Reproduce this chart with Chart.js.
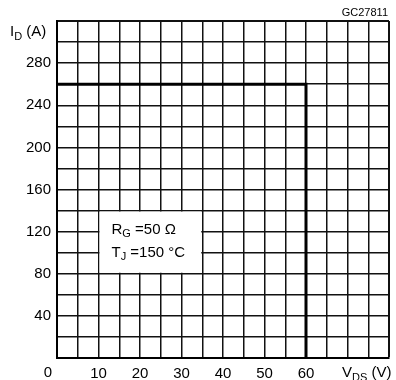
<!DOCTYPE html>
<html>
<head>
<meta charset="utf-8">
<script src="https://cdn.jsdelivr.net/npm/chart.js@4.4.0/dist/chart.umd.min.js"></script>
<style>
  html, body { margin: 0; padding: 0; background: #fff; }
</style>
</head>
<body>
<canvas id="soa" width="396" height="380"></canvas>
<script>
// safe operating area limit, I_D vs V_DS
var vdsLimit = [0, 60, 60];
var idLimit = [260, 260, 0];
var xTickLabels = [10, 20, 30, 40, 50, 60];
var yTickLabels = [40, 80, 120, 160, 200, 240, 280];

var FONT = '"Liberation Sans", Arial, sans-serif';
var X_MAX = 80, Y_MAX = 320;

// draws "main" + subscript + rest, left aligned, vertically centred on y
function subText(ctx, x, y, main, sub, rest, size) {
    ctx.font = size + 'px ' + FONT;
    ctx.fillText(main, x, y);
    x += ctx.measureText(main).width;
    ctx.font = Math.round(size * 0.72) + 'px ' + FONT;
    ctx.fillText(sub, x, y + size * 0.32);
    x += ctx.measureText(sub).width;
    ctx.font = size + 'px ' + FONT;
    ctx.fillText(rest, x, y);
}

var annotate = {
    id: 'annotate',
    beforeDatasetsDraw: function(chart) {
        var ctx = chart.ctx, xs = chart.scales.x, ys = chart.scales.y;
        var l = xs.getPixelForValue(10), r = xs.getPixelForValue(35);
        var t = ys.getPixelForValue(140), b = ys.getPixelForValue(80);
        ctx.save();
        ctx.fillStyle = '#fff';
        ctx.fillRect(l + 1, t + 1, r - l - 2, b - t - 2);
        ctx.fillStyle = '#000';
        ctx.textBaseline = 'middle';
        ctx.textAlign = 'left';
        subText(ctx, l + 13, t + 19, 'R', 'G', ' =50 \u03A9', 15);
        subText(ctx, l + 13, t + 42, 'T', 'J', ' =150 \u00B0C', 15);
        ctx.restore();
    },
    afterDraw: function(chart) {
        var ctx = chart.ctx, area = chart.chartArea;
        ctx.save();
        ctx.fillStyle = '#000';
        ctx.textBaseline = 'middle';
        ctx.textAlign = 'left';
        subText(ctx, 10, area.top + 11, 'I', 'D', ' (A)', 15);
        subText(ctx, 342, area.bottom + 15, 'V', 'DS', ' (V)', 15);
        ctx.font = '15px ' + FONT;
        ctx.textAlign = 'center';
        ctx.fillText('0', area.left - 9, area.bottom + 15);
        ctx.font = '11px ' + FONT;
        ctx.textAlign = 'right';
        ctx.fillText('GC27811', 388, 13);
        ctx.restore();
    }
};

function edgeWidth(max) {
    return function(c) {
        return c.tick && c.tick.value === max ? 2 : 1.5;
    };
}

new Chart(document.getElementById('soa').getContext('2d'), {
    type: 'scatter',
    data: {
        datasets: [{
            data: vdsLimit.map(function(v, i) { return { x: v, y: idLimit[i] }; }),
            showLine: true,
            borderColor: '#000',
            borderWidth: 3,
            pointRadius: 0,
            fill: false
        }]
    },
    options: {
        responsive: false,
        animation: false,
        layout: { padding: { top: 21, right: 3, left: 0, bottom: 0 } },
        plugins: {
            legend: { display: false },
            tooltip: { enabled: false }
        },
        scales: {
            x: {
                type: 'linear',
                min: 0,
                max: X_MAX,
                afterFit: function(s) { s.height = 22; },
                grid: { color: '#111', lineWidth: edgeWidth(X_MAX), drawTicks: false },
                border: { color: '#000', width: 2 },
                ticks: {
                    stepSize: 5,
                    padding: 7,
                    color: '#000',
                    font: { family: FONT, size: 15 },
                    maxRotation: 0,
                    autoSkip: false,
                    callback: function(v) { return xTickLabels.indexOf(v) >= 0 ? String(v) : ''; }
                }
            },
            y: {
                type: 'linear',
                min: 0,
                max: Y_MAX,
                afterFit: function(s) { s.width = 57; },
                grid: { color: '#111', lineWidth: edgeWidth(Y_MAX), drawTicks: false },
                border: { color: '#000', width: 2 },
                ticks: {
                    stepSize: 20,
                    padding: 6,
                    color: '#000',
                    font: { family: FONT, size: 15 },
                    autoSkip: false,
                    callback: function(v) { return yTickLabels.indexOf(v) >= 0 ? String(v) : ''; }
                }
            }
        }
    },
    plugins: [annotate]
});
</script>
</body>
</html>
